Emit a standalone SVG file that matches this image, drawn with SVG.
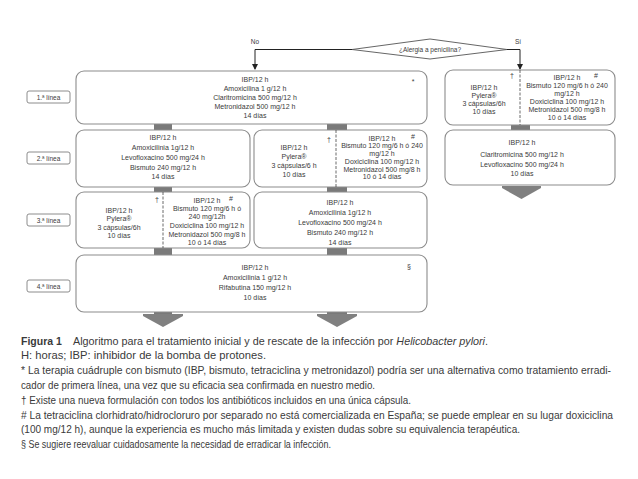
<svg xmlns="http://www.w3.org/2000/svg" width="638" height="479" viewBox="0 0 638 479">
<style>
.box{fill:#fff;stroke:#8c8c8c;stroke-width:1.1}
.lbl{fill:#fff;stroke:#8c8c8c;stroke-width:1}
.t{font-family:"Liberation Sans",Arial,sans-serif;font-size:7px;fill:#3a3a3a;text-anchor:middle}
.tl{font-family:"Liberation Sans",Arial,sans-serif;font-size:6.5px;fill:#3a3a3a;text-anchor:middle}
.bar{fill:#7a7a7a}
.arr{fill:#808080}
.dash{stroke:#444;stroke-width:0.8;stroke-dasharray:3,1.5;fill:none}
.ln{stroke:#222;stroke-width:1;fill:none}
.cap{font-family:"Liberation Sans",Arial,sans-serif;font-size:10.5px;fill:#3a3a3a}
</style>
<defs>
<marker id="ah" markerWidth="6" markerHeight="6" refX="5" refY="3" orient="auto" markerUnits="userSpaceOnUse">
<path d="M0,0 L6,3 L0,6 z" fill="#222"/>
</marker>
</defs>

<g id="connectors">
<polyline class="ln" points="352,49.5 255,49.5 255,69" marker-end="url(#ah)"/>
<polyline class="ln" points="507,49.5 520,49.5 520,69" marker-end="url(#ah)"/>
<rect class="bar" x="154" y="124" width="18" height="6"/>
<rect class="bar" x="327" y="124" width="20" height="6"/>
<rect class="bar" x="511" y="125" width="19" height="5"/>
<rect class="bar" x="154" y="187" width="18" height="5"/>
<rect class="bar" x="327" y="187" width="20" height="5"/>
<rect class="bar" x="154" y="248" width="18" height="7"/>
<rect class="bar" x="327" y="248" width="20" height="7"/>
<rect class="bar" x="154" y="312" width="18" height="3"/>
<rect class="bar" x="327" y="312" width="20" height="3"/>
<polygon class="arr" points="143,314 183,314 183,316 163,327 143,316"/>
<polygon class="arr" points="317,314 357,314 357,316 337,327 317,316"/>
<polygon class="arr" points="502,186 541,186 541,188 521.5,199 502,188"/>
<text class="tl" x="255" y="44">No</text>
<text class="tl" x="518" y="44">Sí</text>
</g>

<g id="decision">
<polygon points="352,49.5 430,39 507,49.5 430,59" fill="#fff" stroke="#555" stroke-width="0.9"/>
<text class="tl" x="430" y="52">¿Alergia a penicilina?</text>
</g>

<g id="label1"><rect class="lbl" x="27" y="91" width="43" height="12" rx="2"/><text class="tl" x="48.5" y="99.5">1.ª línea</text></g>
<g id="label2"><rect class="lbl" x="27" y="152" width="43" height="12" rx="2"/><text class="tl" x="48.5" y="160.5">2.ª línea</text></g>
<g id="label3"><rect class="lbl" x="27" y="214" width="43" height="12" rx="2"/><text class="tl" x="48.5" y="222.5">3.ª línea</text></g>
<g id="label4"><rect class="lbl" x="27" y="280" width="43" height="12" rx="2"/><text class="tl" x="48.5" y="288.5">4.ª línea</text></g>

<g id="n1">
<rect class="box" x="76" y="71" width="351" height="53" rx="8"/>
<text class="t" x="255" y="82">IBP/12 h</text>
<text class="t" x="255" y="91">Amoxicilina 1 g/12 h</text>
<text class="t" x="255" y="100">Claritromicina 500 mg/12 h</text>
<text class="t" x="255" y="109">Metronidazol 500 mg/12 h</text>
<text class="t" x="255" y="118">14 días</text>
<text class="t" x="413" y="84">*</text>
</g>

<g id="n2a">
<rect class="box" x="76" y="130" width="174" height="57" rx="8"/>
<text class="t" x="163" y="140">IBP/12 h</text>
<text class="t" x="163" y="150">Amoxicilinia 1g/12 h</text>
<text class="t" x="163" y="160">Levofloxacino 500 mg/24 h</text>
<text class="t" x="163" y="170">Bismuto 240 mg/12 h</text>
<text class="t" x="163" y="179">14 días</text>
</g>

<g id="n2b">
<rect class="box" x="254" y="130" width="173" height="57" rx="8"/>
<line class="dash" x1="336" y1="130" x2="336" y2="187"/>
<text class="t" x="294" y="150">IBP/12 h</text>
<text class="t" x="294" y="159">Pylera®</text>
<text class="t" x="294" y="168">3 cápsulas/6 h</text>
<text class="t" x="294" y="177">10 días</text>
<text class="t" x="329" y="142">†</text>
<text class="t" x="382" y="140.5">IBP/12 h</text>
<text class="t" x="382" y="148">Bismuto 120 mg/6 h ó 240</text>
<text class="t" x="382" y="155.5">mg/12 h</text>
<text class="t" x="382" y="163.5">Doxiciclina 100 mg/12 h</text>
<text class="t" x="382" y="171.5">Metronidazol 500 mg/8 h</text>
<text class="t" x="382" y="179">10 ó 14 días</text>
<text class="t" x="413" y="139">#</text>
</g>

<g id="n3a">
<rect class="box" x="76" y="192" width="174" height="56" rx="8"/>
<line class="dash" x1="163" y1="192" x2="163" y2="248"/>
<text class="t" x="119" y="213">IBP/12 h</text>
<text class="t" x="119" y="221">Pylera®</text>
<text class="t" x="119" y="229.5">3 cápsulas/6h</text>
<text class="t" x="119" y="238">10 días</text>
<text class="t" x="157" y="202">†</text>
<text class="t" x="207" y="203">IBP/12 h</text>
<text class="t" x="207" y="211">Bismuto 120 mg/6 h ó</text>
<text class="t" x="207" y="219">240 mg/12h</text>
<text class="t" x="207" y="228">Doxiciclina 100 mg/12 h</text>
<text class="t" x="207" y="237">Metronidazol 500 mg/8 h</text>
<text class="t" x="207" y="245">10 ó 14 días</text>
<text class="t" x="231" y="201">#</text>
</g>

<g id="n3b">
<rect class="box" x="254" y="192" width="173" height="56" rx="8"/>
<text class="t" x="340" y="204.5">IBP/12 h</text>
<text class="t" x="340" y="214.5">Amoxicilinia 1g/12 h</text>
<text class="t" x="340" y="224.5">Levofloxacino 500 mg/24 h</text>
<text class="t" x="340" y="234.5">Bismuto 240 mg/12 h</text>
<text class="t" x="340" y="244.5">14 días</text>
</g>

<g id="n4">
<rect class="box" x="76" y="255" width="351" height="57" rx="8"/>
<text class="t" x="255" y="270">IBP/12 h</text>
<text class="t" x="255" y="280">Amoxicilinia 1 g/12 h</text>
<text class="t" x="255" y="290">Rifabutina 150 mg/12 h</text>
<text class="t" x="255" y="300">10 días</text>
<text class="t" x="409" y="269">§</text>
</g>

<g id="s1">
<rect class="box" x="445" y="70" width="170" height="55" rx="8"/>
<line class="dash" x1="520" y1="70" x2="520" y2="125"/>
<text class="t" x="484" y="89.5">IBP/12 h</text>
<text class="t" x="484" y="97.5">Pylera®</text>
<text class="t" x="484" y="105.5">3 cápsulas/6h</text>
<text class="t" x="484" y="113.5">10 días</text>
<text class="t" x="512" y="78">†</text>
<text class="t" x="567" y="80">IBP/12 h</text>
<text class="t" x="567" y="88">Bismuto 120 mg/6 h ó 240</text>
<text class="t" x="567" y="95.5">mg/12 h</text>
<text class="t" x="567" y="104">Doxiciclina 100 mg/12 h</text>
<text class="t" x="567" y="112">Metronidazol 500 mg/8 h</text>
<text class="t" x="567" y="120">10 ó 14 días</text>
<text class="t" x="596" y="78">#</text>
</g>

<g id="s2">
<rect class="box" x="445" y="130" width="170" height="55" rx="8"/>
<text class="t" x="522" y="145">IBP/12 h</text>
<text class="t" x="522" y="157">Claritromicina 500 mg/12 h</text>
<text class="t" x="522" y="166.5">Levofloxacino 500 mg/24 h</text>
<text class="t" x="522" y="175.5">10 días</text>
</g>

<g id="caption">
<text class="cap" x="21" y="344.5" font-weight="bold" fill="#222">Figura 1</text>
<text class="cap" x="73" y="344.5" textLength="415" lengthAdjust="spacingAndGlyphs">Algoritmo para el tratamiento inicial y de rescate de la infección por <tspan font-style="italic">Helicobacter pylori</tspan>.</text>
<text class="cap" x="21" y="359.3" textLength="245" lengthAdjust="spacingAndGlyphs">H: horas; IBP: inhibidor de la bomba de protones.</text>
<text class="cap" x="21" y="374.1" textLength="590" lengthAdjust="spacingAndGlyphs">* La terapia cuádruple con bismuto (IBP, bismuto, tetraciclina y metronidazol) podría ser una alternativa como tratamiento erradi-</text>
<text class="cap" x="21" y="388.9" textLength="354" lengthAdjust="spacingAndGlyphs">cador de primera línea, una vez que su eficacia sea confirmada en nuestro medio.</text>
<text class="cap" x="21" y="403.7" textLength="390" lengthAdjust="spacingAndGlyphs">† Existe una nueva formulación con todos los antibióticos incluidos en una única cápsula.</text>
<text class="cap" x="21" y="418.5" textLength="592" lengthAdjust="spacingAndGlyphs"># La tetraciclina clorhidrato/hidrocloruro por separado no está comercializada en España; se puede emplear en su lugar doxiciclina</text>
<text class="cap" x="21" y="433.3" textLength="499" lengthAdjust="spacingAndGlyphs">(100 mg/12 h), aunque la experiencia es mucho más limitada y existen dudas sobre su equivalencia terapéutica.</text>
<text class="cap" x="21" y="448.1" textLength="310" lengthAdjust="spacingAndGlyphs">§ Se sugiere reevaluar cuidadosamente la necesidad de erradicar la infección.</text>
</g>
</svg>
